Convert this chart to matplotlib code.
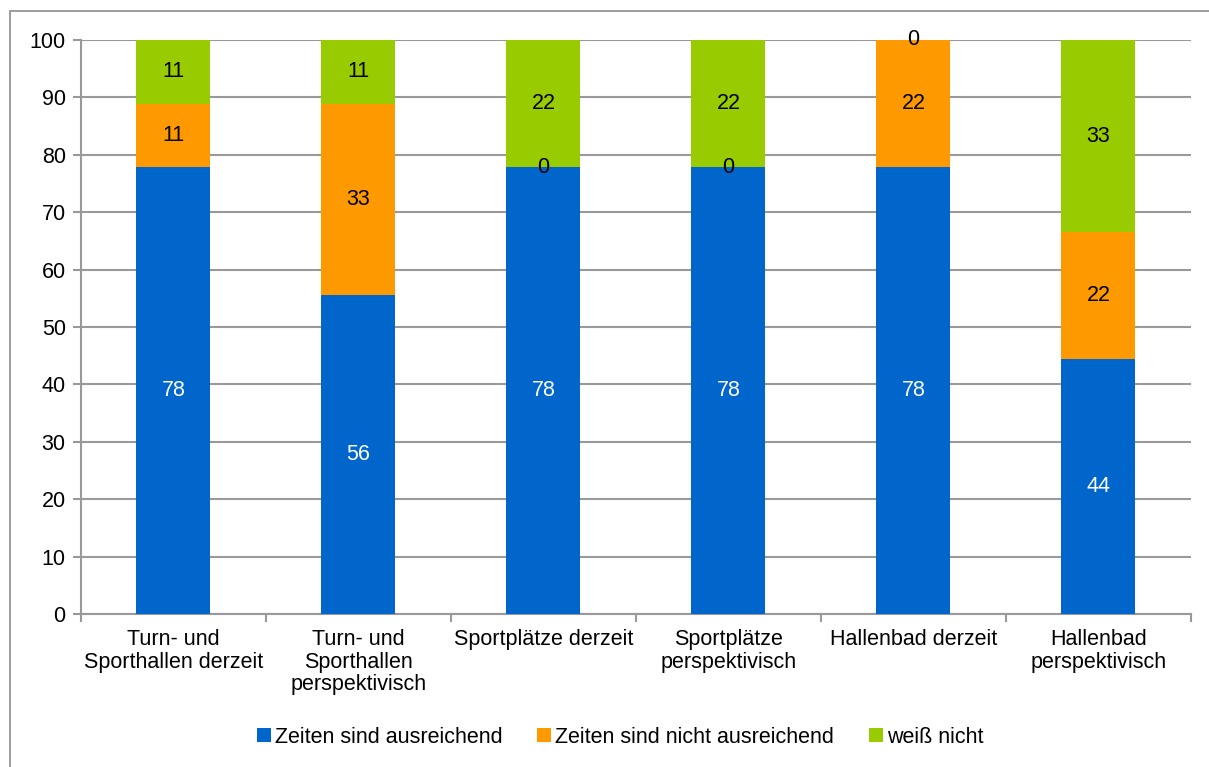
import numpy as np
import matplotlib.pyplot as plt
from matplotlib.patches import Rectangle

plt.rcParams['font.family'] = ['Liberation Sans', 'DejaVu Sans']

# categories (x axis)
categories = ["Turn- und\nSporthallen derzeit",
              "Turn- und\nSporthallen\nperspektivisch",
              "Sportplätze derzeit",
              "Sportplätze\nperspektivisch",
              "Hallenbad derzeit",
              "Hallenbad\nperspektivisch"]

# shares in percent
ausreichend = [77.8, 55.6, 77.8, 77.8, 77.8, 44.4]
nicht_ausreichend = [11.1, 33.3, 0.0, 0.0, 22.2, 22.2]
weiss_nicht = [11.1, 11.1, 22.2, 22.2, 0.0, 33.3]

series = [("Zeiten sind ausreichend", ausreichend, "#0066CC", "white"),
          ("Zeiten sind nicht ausreichend", nicht_ausreichend, "#FF9900", "black"),
          ("weiß nicht", weiss_nicht, "#99CC00", "black")]

fs = 15.5

fig = plt.figure(figsize=(12.09, 7.67), dpi=100)
ax = fig.add_axes([0.067, 0.1995, 0.918, 0.7485])

# outer frame
fig.patches.append(Rectangle((10 / 1209, -0.1), 1.2, 1.1 - 11 / 767,
                             transform=fig.transFigure, fill=False,
                             edgecolor="#8C8C8C", linewidth=1.2))

x = np.arange(len(categories))
bottom = np.zeros(len(categories))
for name, vals, color, tcolor in series:
    vals = np.array(vals)
    bars = ax.bar(x, vals, width=0.4, bottom=bottom, color=color,
                  label=name, zorder=3)
    ax.bar_label(bars, labels=["%.0f" % v for v in vals], label_type="center",
                 color=tcolor, fontsize=fs, zorder=4)
    bottom += vals

ax.set_xlim(-0.5, len(categories) - 0.5)
ax.set_ylim(0, 100)
ax.set_yticks(np.arange(0, 101, 10))
ax.yaxis.grid(True, color="#999999", linewidth=1.5, zorder=0)
ax.tick_params(axis="y", labelsize=fs, length=6, width=1.5, color="#999999",
               pad=5)

# category labels between boundary ticks
ax.set_xticks(np.arange(-0.5, len(categories)), minor=False)
ax.set_xticklabels([])
ax.set_xticks(x, minor=True)
ax.set_xticklabels(categories, minor=True, fontsize=fs, linespacing=1.1,
                   verticalalignment="top")
ax.tick_params(axis="x", which="major", length=6, width=1.5, color="#999999")
ax.tick_params(axis="x", which="minor", length=0, pad=11)

for s in ["top", "right"]:
    ax.spines[s].set_visible(False)
for s in ["left", "bottom"]:
    ax.spines[s].set_color("#999999")
    ax.spines[s].set_linewidth(1.5)

fig.legend(loc="center", bbox_to_anchor=(0.513, 0.039), ncol=3, frameon=False,
           fontsize=fs, handlelength=0.65, handleheight=0.65, handletextpad=0.2,
           columnspacing=1.6)

fig.savefig("out.png", dpi=100)
